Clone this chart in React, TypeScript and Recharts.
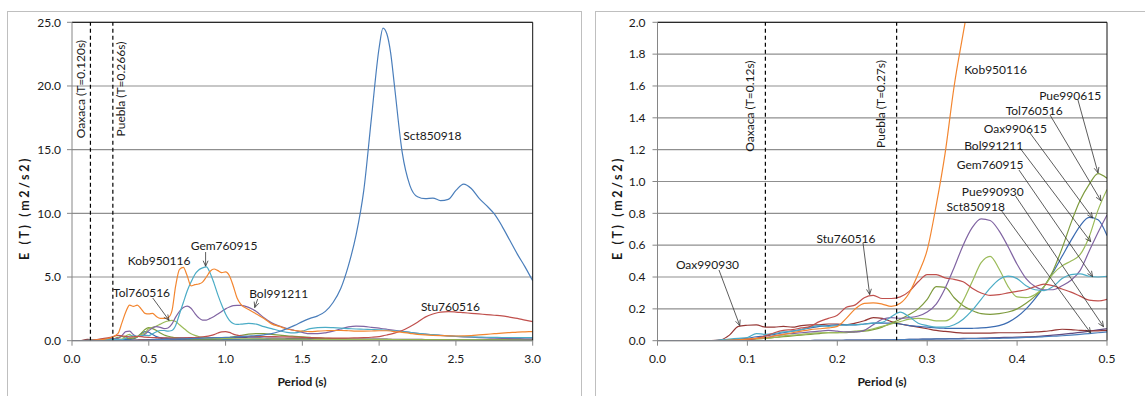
import React from "react";
import {
  LineChart,
  Line,
  XAxis,
  YAxis,
  CartesianGrid,
  ReferenceLine,
  ReferenceDot,
} from "recharts";

const FONT = "Lato, 'Open Sans', Arial, sans-serif";
const TEXT = "#1a1a1a";
const AXIS = "#868686";
const GRID = "#8f8f8f";

// periods (s) used by each panel
const leftPeriods = [
  0, 0.05, 0.1, 0.15, 0.2, 0.25, 0.3, 0.325, 0.35, 0.375,
  0.4, 0.425, 0.45, 0.475, 0.5, 0.525, 0.55, 0.575, 0.6, 0.625,
  0.65, 0.675, 0.7, 0.725, 0.75, 0.775, 0.8, 0.825, 0.85, 0.875,
  0.9, 0.925, 0.95, 0.975, 1.0, 1.025, 1.05, 1.075, 1.1, 1.15,
  1.2, 1.25, 1.3, 1.35, 1.4, 1.45, 1.5, 1.55, 1.6, 1.65,
  1.7, 1.75, 1.8, 1.85, 1.9, 1.95, 2.0, 2.025, 2.05, 2.075,
  2.1, 2.15, 2.2, 2.25, 2.3, 2.35, 2.4, 2.45, 2.5, 2.55,
  2.6, 2.65, 2.7, 2.75, 2.8, 2.85, 2.9, 2.95, 3.0,
];
const rightPeriods = [
  0, 0.01, 0.02, 0.03, 0.04, 0.05, 0.06, 0.07, 0.08, 0.09,
  0.1, 0.11, 0.12, 0.13, 0.14, 0.15, 0.16, 0.17, 0.18, 0.19,
  0.2, 0.21, 0.22, 0.23, 0.24, 0.25, 0.26, 0.27, 0.28, 0.29,
  0.3, 0.31, 0.32, 0.33, 0.34, 0.35, 0.36, 0.37, 0.38, 0.39,
  0.4, 0.41, 0.42, 0.43, 0.44, 0.45, 0.46, 0.47, 0.48, 0.49, 0.5,
];

// E(T) m2/s2, left panel (0 - 3.0 s)
const sctLeft = [
  0, 0, 0, 0, 0.002, 0.005, 0.01, 0.012, 0.013, 0.015,
  0.018, 0.022, 0.03, 0.04, 0.055, 0.07, 0.08, 0.09, 0.1, 0.11,
  0.12, 0.13, 0.14, 0.15, 0.16, 0.17, 0.18, 0.19, 0.2, 0.21,
  0.22, 0.23, 0.24, 0.25, 0.26, 0.27, 0.28, 0.3, 0.32, 0.36,
  0.4, 0.46, 0.55, 0.72, 0.95, 1.2, 1.5, 1.75, 1.95, 2.3,
  3.0, 4.1, 5.9, 8.3, 11.8, 17.5, 23.0, 24.55, 24.1, 22.6,
  20.0, 14.8, 12.2, 11.3, 11.15, 11.2, 11.0, 11.1, 11.8, 12.3,
  11.95, 11.2, 10.6, 9.95, 9.0, 7.9, 6.8, 5.8, 4.7,
];
const kobLeft = [
  0, 0, 0.01, 0.05, 0.09, 0.23, 0.57, 1.4, 2.25, 2.8,
  2.7, 2.8, 2.5, 2.15, 2.1, 2.15, 1.9, 1.76, 1.75, 1.8,
  2.3, 4.3, 5.6, 5.75, 5.1, 4.3, 4.4, 4.45, 4.6, 5.0,
  5.45, 5.63, 5.5, 5.35, 5.4, 5.1, 4.3, 3.35, 2.85, 2.45,
  2.1, 1.75, 1.32, 1.12, 0.92, 0.8, 0.75, 0.72, 0.75, 0.78,
  0.8, 0.8, 0.78, 0.75, 0.75, 0.76, 0.78, 0.78, 0.78, 0.76,
  0.72, 0.66, 0.58, 0.5, 0.45, 0.42, 0.4, 0.38, 0.37, 0.38,
  0.4, 0.45, 0.5, 0.55, 0.6, 0.64, 0.68, 0.7, 0.72,
];
const gemLeft = [
  0, 0, 0.02, 0.06, 0.095, 0.115, 0.095, 0.09, 0.19, 0.36,
  0.39, 0.33, 0.39, 0.42, 0.405, 0.55, 0.7, 0.8, 0.8, 0.75,
  0.8, 1.2, 2.1, 3.0, 3.9, 4.6, 5.2, 5.55, 5.72, 5.8,
  5.3, 4.5, 3.6, 2.8, 2.1, 1.6, 1.35, 1.28, 1.3, 1.36,
  1.3, 1.1, 0.95, 0.78, 0.66, 0.62, 0.75, 0.95, 1.03, 1.05,
  1.02, 0.98, 0.95, 0.92, 0.9, 0.88, 0.86, 0.84, 0.82, 0.8,
  0.78, 0.72, 0.65, 0.58, 0.52, 0.47, 0.42, 0.38, 0.35, 0.32,
  0.3, 0.28, 0.27, 0.26, 0.25, 0.25, 0.24, 0.24, 0.24,
];
const bolLeft = [
  0, 0, 0.01, 0.045, 0.06, 0.135, 0.18, 0.4, 0.71, 0.75,
  0.48, 0.33, 0.345, 0.5, 0.79, 1.0, 1.1, 1.05, 0.95, 1.0,
  1.3, 1.85, 2.3, 2.6, 2.72, 2.55, 2.15, 1.8, 1.62, 1.62,
  1.75, 1.9, 2.1, 2.3, 2.5, 2.65, 2.75, 2.78, 2.78, 2.62,
  2.3, 1.8, 1.4, 1.15, 0.95, 0.8, 0.65, 0.55, 0.55, 0.62,
  0.75, 0.92, 1.08, 1.15, 1.12, 1.05, 0.98, 0.94, 0.9, 0.86,
  0.82, 0.74, 0.66, 0.58, 0.52, 0.46, 0.42, 0.38, 0.34, 0.3,
  0.27, 0.24, 0.22, 0.2, 0.18, 0.17, 0.16, 0.15, 0.15,
];
const tolLeft = [
  0, 0, 0.008, 0.035, 0.05, 0.09, 0.135, 0.125, 0.37, 0.5,
  0.275, 0.31, 0.47, 0.6, 0.95, 1.05, 1.15, 1.3, 1.45, 1.55,
  1.6, 1.5, 1.25, 1.0, 0.75, 0.55, 0.42, 0.33, 0.27, 0.23,
  0.2, 0.18, 0.17, 0.165, 0.16, 0.16, 0.155, 0.155, 0.15, 0.15,
  0.14, 0.14, 0.13, 0.13, 0.125, 0.12, 0.12, 0.115, 0.11, 0.11,
  0.1, 0.1, 0.1, 0.095, 0.09, 0.09, 0.085, 0.085, 0.08, 0.08,
  0.08, 0.075, 0.075, 0.07, 0.07, 0.07, 0.065, 0.065, 0.06, 0.06,
  0.06, 0.06, 0.055, 0.055, 0.055, 0.05, 0.05, 0.05, 0.05,
];
const stuLeft = [
  0, 0, 0.005, 0.07, 0.16, 0.265, 0.415, 0.39, 0.33, 0.285,
  0.31, 0.345, 0.325, 0.28, 0.26, 0.25, 0.24, 0.23, 0.22, 0.21,
  0.2, 0.2, 0.2, 0.21, 0.22, 0.23, 0.25, 0.27, 0.3, 0.34,
  0.4, 0.48, 0.6, 0.7, 0.72, 0.65, 0.52, 0.44, 0.38, 0.33,
  0.33, 0.33, 0.32, 0.31, 0.3, 0.28, 0.26, 0.24, 0.22, 0.21,
  0.2, 0.2, 0.21, 0.22, 0.24, 0.27, 0.32, 0.38, 0.45, 0.52,
  0.6, 0.8, 1.1, 1.45, 1.85, 2.1, 2.25, 2.28, 2.25, 2.2,
  2.15, 2.1, 2.05, 2.0, 1.95, 1.85, 1.75, 1.62, 1.5,
];
const pue615Left = [
  0, 0, 0.008, 0.03, 0.05, 0.085, 0.26, 0.34, 0.19, 0.165,
  0.2, 0.3, 0.58, 0.88, 1.02, 0.95, 0.8, 0.6, 0.45, 0.35,
  0.28, 0.22, 0.18, 0.16, 0.14, 0.13, 0.12, 0.12, 0.12, 0.12,
  0.12, 0.13, 0.14, 0.16, 0.2, 0.25, 0.3, 0.36, 0.42, 0.52,
  0.56, 0.55, 0.5, 0.44, 0.38, 0.34, 0.3, 0.26, 0.22, 0.19,
  0.16, 0.14, 0.12, 0.11, 0.11, 0.1, 0.1, 0.1, 0.1, 0.1,
  0.09, 0.09, 0.09, 0.085, 0.085, 0.08, 0.08, 0.075, 0.07, 0.07,
  0.07, 0.065, 0.065, 0.065, 0.06, 0.06, 0.06, 0.06, 0.06,
];
const oax615Left = [
  0, 0, 0.015, 0.06, 0.1, 0.11, 0.085, 0.078, 0.078, 0.09,
  0.15, 0.3, 0.53, 0.72, 0.66, 0.48, 0.32, 0.24, 0.19, 0.17,
  0.15, 0.14, 0.13, 0.12, 0.12, 0.11, 0.11, 0.1, 0.1, 0.1,
  0.1, 0.1, 0.09, 0.09, 0.09, 0.09, 0.085, 0.085, 0.085, 0.08,
  0.08, 0.08, 0.075, 0.075, 0.07, 0.07, 0.07, 0.065, 0.065, 0.065,
  0.06, 0.06, 0.06, 0.06, 0.055, 0.055, 0.055, 0.055, 0.05, 0.05,
  0.05, 0.05, 0.05, 0.045, 0.045, 0.045, 0.045, 0.04, 0.04, 0.04,
  0.04, 0.04, 0.035, 0.035, 0.035, 0.035, 0.03, 0.03, 0.03,
];
const oax930Left = [
  0, 0, 0.097, 0.085, 0.105, 0.14, 0.075, 0.055, 0.048, 0.048,
  0.05, 0.055, 0.072, 0.065, 0.065, 0.068, 0.07, 0.075, 0.08, 0.085,
  0.09, 0.09, 0.095, 0.095, 0.1, 0.1, 0.1, 0.1, 0.1, 0.1,
  0.1, 0.1, 0.1, 0.1, 0.1, 0.1, 0.1, 0.095, 0.095, 0.095,
  0.09, 0.09, 0.09, 0.085, 0.085, 0.08, 0.08, 0.08, 0.075, 0.075,
  0.075, 0.07, 0.07, 0.07, 0.065, 0.065, 0.065, 0.065, 0.06, 0.06,
  0.06, 0.06, 0.055, 0.055, 0.055, 0.05, 0.05, 0.05, 0.05, 0.045,
  0.045, 0.045, 0.045, 0.04, 0.04, 0.04, 0.04, 0.04, 0.04,
];
const pue930Left = [
  0, 0, 0, 0, 0.002, 0.005, 0.01, 0.012, 0.014, 0.016,
  0.02, 0.025, 0.035, 0.05, 0.075, 0.1, 0.12, 0.15, 0.18, 0.2,
  0.21, 0.22, 0.22, 0.23, 0.23, 0.24, 0.24, 0.25, 0.25, 0.25,
  0.25, 0.25, 0.25, 0.25, 0.25, 0.25, 0.245, 0.24, 0.24, 0.23,
  0.22, 0.21, 0.2, 0.2, 0.19, 0.18, 0.18, 0.17, 0.16, 0.16,
  0.15, 0.14, 0.14, 0.13, 0.13, 0.12, 0.12, 0.12, 0.12, 0.11,
  0.11, 0.11, 0.1, 0.1, 0.095, 0.09, 0.09, 0.085, 0.08, 0.08,
  0.075, 0.075, 0.07, 0.07, 0.065, 0.065, 0.06, 0.06, 0.06,
];

// E(T) m2/s2, right panel (0 - 0.5 s)
const oax930Right = [
  0, 0, 0, 0, 0, 0, 0, 0.005, 0.035, 0.09,
  0.097, 0.1, 0.085, 0.085, 0.09, 0.085, 0.095, 0.1, 0.1, 0.105,
  0.105, 0.1, 0.11, 0.125, 0.145, 0.14, 0.12, 0.105, 0.095, 0.085,
  0.075, 0.065, 0.058, 0.052, 0.048, 0.048, 0.048, 0.048, 0.05, 0.05,
  0.05, 0.052, 0.055, 0.058, 0.065, 0.072, 0.07, 0.065, 0.062, 0.062, 0.065,
];
const stuRight = [
  0, 0, 0, 0, 0, 0, 0, 0, 0, 0.002,
  0.005, 0.015, 0.03, 0.05, 0.065, 0.07, 0.08, 0.09, 0.12, 0.14,
  0.16, 0.21, 0.225, 0.27, 0.285, 0.265, 0.265, 0.275, 0.31, 0.37,
  0.415, 0.415, 0.395, 0.385, 0.37, 0.33, 0.3, 0.285, 0.29, 0.3,
  0.31, 0.32, 0.34, 0.355, 0.345, 0.325, 0.305, 0.28, 0.255, 0.25, 0.26,
];
const kobRight = [
  0, 0, 0, 0, 0, 0, 0, 0, 0.003, 0.005,
  0.01, 0.015, 0.02, 0.03, 0.04, 0.05, 0.06, 0.07, 0.075, 0.08,
  0.09, 0.14, 0.2, 0.235, 0.238, 0.23, 0.215, 0.235, 0.3, 0.42,
  0.57, 0.85, 1.18, 1.6, 1.93, 2.25, 2.55, 2.75, 2.85, 2.8,
  2.7, 2.72, 2.8, 2.75, 2.55, 2.45, 2.3, 2.2, 2.12, 2.1, 2.1,
];
const gemRight = [
  0, 0, 0, 0, 0, 0, 0, 0.005, 0.01, 0.015,
  0.02, 0.045, 0.04, 0.045, 0.055, 0.06, 0.07, 0.085, 0.095, 0.09,
  0.095, 0.1, 0.1, 0.105, 0.11, 0.115, 0.15, 0.18, 0.15, 0.11,
  0.095, 0.085, 0.085, 0.1, 0.135, 0.19, 0.26, 0.33, 0.385, 0.405,
  0.39, 0.345, 0.32, 0.315, 0.34, 0.39, 0.415, 0.42, 0.405, 0.4, 0.405,
];
const bolRight = [
  0, 0, 0, 0, 0, 0, 0, 0, 0.003, 0.006,
  0.01, 0.015, 0.02, 0.03, 0.04, 0.045, 0.05, 0.055, 0.06, 0.065,
  0.06, 0.055, 0.055, 0.065, 0.1, 0.135, 0.145, 0.14, 0.145, 0.155,
  0.18, 0.23, 0.33, 0.46, 0.6, 0.71, 0.765, 0.755, 0.69, 0.59,
  0.48, 0.39, 0.34, 0.32, 0.32, 0.345, 0.38, 0.44, 0.56, 0.68, 0.79,
];
const tolRight = [
  0, 0, 0, 0, 0, 0, 0, 0, 0.003, 0.005,
  0.008, 0.012, 0.015, 0.02, 0.03, 0.035, 0.04, 0.045, 0.05, 0.05,
  0.05, 0.055, 0.06, 0.065, 0.075, 0.09, 0.105, 0.12, 0.135, 0.14,
  0.135, 0.125, 0.125, 0.16, 0.25, 0.37, 0.49, 0.53, 0.45, 0.34,
  0.275, 0.27, 0.29, 0.34, 0.42, 0.47, 0.5, 0.54, 0.65, 0.82, 0.95,
];
const pue615Right = [
  0, 0, 0, 0, 0, 0, 0, 0, 0.003, 0.005,
  0.008, 0.012, 0.015, 0.02, 0.025, 0.03, 0.035, 0.04, 0.045, 0.05,
  0.05, 0.05, 0.055, 0.06, 0.07, 0.085, 0.11, 0.135, 0.165, 0.2,
  0.26, 0.34, 0.335, 0.27, 0.22, 0.19, 0.17, 0.165, 0.17, 0.18,
  0.2, 0.235, 0.28, 0.34, 0.44, 0.58, 0.74, 0.88, 0.98, 1.05, 1.02,
];
const oax615Right = [
  0, 0, 0, 0, 0, 0, 0, 0, 0.005, 0.01,
  0.015, 0.025, 0.03, 0.04, 0.05, 0.06, 0.07, 0.08, 0.09, 0.095,
  0.1, 0.1, 0.1, 0.105, 0.11, 0.11, 0.11, 0.105, 0.095, 0.09,
  0.085, 0.08, 0.078, 0.077, 0.077, 0.078, 0.08, 0.085, 0.095, 0.115,
  0.15, 0.2, 0.265, 0.34, 0.43, 0.53, 0.63, 0.72, 0.775, 0.76, 0.66,
];
const sctRight = [
  0, 0, 0, 0, 0, 0, 0, 0, 0, 0,
  0, 0, 0, 0, 0, 0, 0.001, 0.001, 0.002, 0.002,
  0.002, 0.003, 0.003, 0.004, 0.004, 0.005, 0.006, 0.007, 0.008, 0.009,
  0.01, 0.011, 0.011, 0.012, 0.012, 0.013, 0.013, 0.014, 0.015, 0.016,
  0.018, 0.02, 0.022, 0.025, 0.028, 0.031, 0.035, 0.04, 0.045, 0.05, 0.055,
];
const pue930Right = [
  0, 0, 0, 0, 0, 0, 0, 0, 0, 0,
  0, 0, 0, 0, 0, 0, 0.001, 0.001, 0.002, 0.002,
  0.002, 0.003, 0.004, 0.004, 0.005, 0.005, 0.006, 0.007, 0.008, 0.009,
  0.01, 0.011, 0.012, 0.013, 0.014, 0.015, 0.016, 0.018, 0.02, 0.021,
  0.022, 0.024, 0.026, 0.03, 0.035, 0.04, 0.046, 0.052, 0.06, 0.068, 0.075,
];

type Series = {
  key: string;
  color: string;
  left: number[];
  right: number[];
};

const seriesList: Series[] = [
  { key: "Pue990930", color: "#604b80", left: pue930Left, right: pue930Right },
  { key: "Oax990930", color: "#953735", left: oax930Left, right: oax930Right },
  { key: "Oax990615", color: "#3b6bb1", left: oax615Left, right: oax615Right },
  { key: "Pue990615", color: "#7e9b3e", left: pue615Left, right: pue615Right },
  { key: "Tol760516", color: "#9bbb59", left: tolLeft, right: tolRight },
  { key: "Bol991211", color: "#8064a2", left: bolLeft, right: bolRight },
  { key: "Gem760915", color: "#4bacc6", left: gemLeft, right: gemRight },
  { key: "Stu760516", color: "#c0504d", left: stuLeft, right: stuRight },
  { key: "Kob950116", color: "#f38630", left: kobLeft, right: kobRight },
  { key: "Sct850918", color: "#4a7ebb", left: sctLeft, right: sctRight },
];

const leftXTicks = [0, 0.5, 1, 1.5, 2, 2.5, 3];
const leftYTicks = [0, 5, 10, 15, 20, 25];
const rightXTicks = [0, 0.1, 0.2, 0.3, 0.4, 0.5];
const rightYTicks = [0, 0.2, 0.4, 0.6, 0.8, 1, 1.2, 1.4, 1.6, 1.8, 2];

type Mark = { t: number; text: string; lt: number; le: number };
type Note = { text: string; t: number; e: number };
type Arrow = { from: [number, number]; to: [number, number] };

const leftMarks: Mark[] = [
  { t: 0.12, text: "Oaxaca (T=0.120s)", lt: 0.057, le: 19.76 },
  { t: 0.266, text: "Puebla (T=0.266s)", lt: 0.317, le: 19.76 },
];
const rightMarks: Mark[] = [
  { t: 0.12, text: "Oaxaca (T=0.12s)", lt: 0.1026, le: 1.474 },
  { t: 0.266, text: "Puebla (T=0.27s)", lt: 0.2486, le: 1.487 },
];

const leftNotes: Note[] = [
  { text: "Sct850918", t: 2.347, e: 16.1 },
  { text: "Gem760915", t: 0.99, e: 7.51 },
  { text: "Kob950116", t: 0.567, e: 6.26 },
  { text: "Tol760516", t: 0.453, e: 3.75 },
  { text: "Bol991211", t: 1.346, e: 3.67 },
  { text: "Stu760516", t: 2.464, e: 2.65 },
];
const leftArrows: Arrow[] = [
  { from: [0.87, 6.96], to: [0.87, 5.85] },
  { from: [0.526, 3.35], to: [0.632, 1.6] },
  { from: [1.209, 3.27], to: [1.19, 2.6] },
];

const rightNotes: Note[] = [
  { text: "Kob950116", t: 0.376, e: 1.705 },
  { text: "Pue990615", t: 0.459, e: 1.541 },
  { text: "Tol760516", t: 0.419, e: 1.449 },
  { text: "Oax990615", t: 0.398, e: 1.33 },
  { text: "Bol991211", t: 0.374, e: 1.229 },
  { text: "Gem760915", t: 0.37, e: 1.104 },
  { text: "Pue990930", t: 0.373, e: 0.94 },
  { text: "Sct850918", t: 0.354, e: 0.846 },
  { text: "Stu760516", t: 0.2097, e: 0.645 },
  { text: "Oax990930", t: 0.0556, e: 0.48 },
];
const rightArrows: Arrow[] = [
  { from: [0.0684, 0.444], to: [0.0915, 0.095] },
  { from: [0.2286, 0.614], to: [0.236, 0.29] },
  { from: [0.4677, 1.512], to: [0.49, 1.054] },
  { from: [0.4366, 1.418], to: [0.4933, 0.879] },
  { from: [0.4143, 1.305], to: [0.484, 0.771] },
  { from: [0.4032, 1.21], to: [0.4819, 0.622] },
  { from: [0.4021, 1.072], to: [0.484, 0.402] },
  { from: [0.3982, 0.909], to: [0.4961, 0.088] },
  { from: [0.3821, 0.821], to: [0.4819, 0.048] },
];

const ArrowShape = (p: any) => {
  const { x1, y1, x2, y2 } = p;
  if (x1 == null) return <g />;
  const a = Math.atan2(y2 - y1, x2 - x1);
  const len = 6;
  const w = 0.42;
  const ax = x2 - len * Math.cos(a - w);
  const ay = y2 - len * Math.sin(a - w);
  const bx = x2 - len * Math.cos(a + w);
  const by = y2 - len * Math.sin(a + w);
  return (
    <g>
      <line x1={x1} y1={y1} x2={x2} y2={y2} stroke="#333" strokeWidth={0.8} />
      <polyline
        points={`${ax},${ay} ${x2},${y2} ${bx},${by}`}
        fill="none"
        stroke="#333"
        strokeWidth={0.8}
      />
    </g>
  );
};

type PanelProps = {
  width: number;
  height: number;
  margin: { top: number; right: number; bottom: number; left: number };
  periods: number[];
  side: "left" | "right";
  xMax: number;
  xTicks: number[];
  yMax: number;
  yTicks: number[];
  marks: Mark[];
  notes: Note[];
  arrows: Arrow[];
};

function Panel({
  width,
  height,
  margin,
  periods,
  side,
  xMax,
  xTicks,
  yMax,
  yTicks,
  marks,
  notes,
  arrows,
}: PanelProps) {
  const rows = periods.map((t, i) => {
    const row: Record<string, number> = { t };
    seriesList.forEach((s) => {
      row[s.key] = s[side][i];
    });
    return row;
  });
  const tickStyle = { fontSize: 12, fill: TEXT, fontFamily: FONT };

  return (
    <LineChart width={width} height={height} data={rows} margin={margin}>
      <CartesianGrid vertical={false} stroke={GRID} strokeWidth={1.2} />
      <XAxis
        dataKey="t"
        type="number"
        domain={[0, xMax]}
        ticks={xTicks}
        tickFormatter={(v: number) => v.toFixed(1)}
        stroke={AXIS}
        tick={tickStyle}
        tickSize={5}
        tickMargin={9}
        height={30}
        allowDataOverflow
      />
      <YAxis
        type="number"
        domain={[0, yMax]}
        ticks={yTicks}
        tickFormatter={(v: number) => v.toFixed(1)}
        stroke={AXIS}
        tick={tickStyle}
        tickSize={5}
        tickMargin={side === "left" ? 6 : 7}
        width={50}
        allowDataOverflow
      />
      {seriesList.map((s) => (
        <Line
          key={s.key}
          dataKey={s.key}
          type="monotone"
          stroke={s.color}
          strokeWidth={1.2}
          dot={false}
          activeDot={false}
          isAnimationActive={false}
        />
      ))}
      <ReferenceLine y={yMax} stroke="#111" strokeWidth={1} />
      <ReferenceLine x={xMax} stroke="#111" strokeWidth={1} />
      {marks.map((m) => (
        <ReferenceLine
          key={"l" + m.text}
          x={m.t}
          stroke="#000"
          strokeWidth={1.2}
          strokeDasharray="4 3"
        />
      ))}
      {marks.map((m) => (
        <ReferenceDot
          key={"m" + m.text}
          x={m.lt}
          y={m.le}
          r={0}
          shape={(p: any) => (
            <text
              x={p.cx}
              y={p.cy}
              transform={`rotate(-90 ${p.cx} ${p.cy})`}
              textAnchor="middle"
              dominantBaseline="central"
              fontFamily={FONT}
              fontSize={12}
              fill={TEXT}
            >
              {m.text}
            </text>
          )}
        />
      ))}
      {arrows.map((a, i) => (
        <ReferenceLine
          key={"a" + i}
          segment={[
            { x: a.from[0], y: a.from[1] },
            { x: a.to[0], y: a.to[1] },
          ]}
          stroke="#333"
          shape={ArrowShape}
        />
      ))}
      {notes.map((n) => (
        <ReferenceDot
          key={"n" + n.text}
          x={n.t}
          y={n.e}
          r={0}
          shape={(p: any) => (
            <text
              x={p.cx}
              y={p.cy}
              textAnchor="middle"
              dominantBaseline="central"
              fontFamily={FONT}
              fontSize={12}
              fill={TEXT}
            >
              {n.text}
            </text>
          )}
        />
      ))}
    </LineChart>
  );
}

const titleStyle: React.CSSProperties = {
  position: "absolute",
  fontFamily: FONT,
  fontWeight: 700,
  fontSize: 12,
  color: TEXT,
  whiteSpace: "pre",
  lineHeight: "14px",
};

const yTitleStyle: React.CSSProperties = {
  ...titleStyle,
  fontSize: 12.5,
  letterSpacing: "2.6px",
  top: 208,
  transform: "translate(-50%, -50%) rotate(-90deg)",
};

export default function App() {
  return (
    <div
      style={{
        position: "absolute",
        left: 0,
        top: 0,
        width: 1145,
        height: 396,
        overflow: "hidden",
        background: "#fff",
      }}
    >
      <div
        style={{
          position: "absolute",
          left: 7,
          top: 11,
          width: 575,
          height: 400,
          border: "1px solid #bfbfbf",
          boxSizing: "border-box",
        }}
      />
      <div
        style={{
          position: "absolute",
          left: 595,
          top: 11,
          width: 600,
          height: 400,
          border: "1px solid #bfbfbf",
          boxSizing: "border-box",
        }}
      />
      <div style={{ position: "absolute", left: 0, top: 0 }}>
        <Panel
          width={582}
          height={396}
          margin={{ top: 22.3, right: 49.3, bottom: 25.3, left: 22 }}
          periods={leftPeriods}
          side="left"
          xMax={3}
          xTicks={leftXTicks}
          yMax={25}
          yTicks={leftYTicks}
          marks={leftMarks}
          notes={leftNotes}
          arrows={leftArrows}
        />
      </div>
      <div style={{ position: "absolute", left: 590, top: 0 }}>
        <Panel
          width={555}
          height={396}
          margin={{ top: 22.3, right: 38, bottom: 25.3, left: 17.5 }}
          periods={rightPeriods}
          side="right"
          xMax={0.5}
          xTicks={rightXTicks}
          yMax={2}
          yTicks={rightYTicks}
          marks={rightMarks}
          notes={rightNotes}
          arrows={rightArrows}
        />
      </div>
      <div style={{ ...yTitleStyle, left: 25 }}>E (T) (m2/s2)</div>
      <div style={{ ...yTitleStyle, left: 618 }}>E (T) (m2/s2)</div>
      <div
        style={{ ...titleStyle, left: 302, top: 382, transform: "translate(-50%, -50%)" }}
      >
        Period (s)
      </div>
      <div
        style={{ ...titleStyle, left: 882, top: 382, transform: "translate(-50%, -50%)" }}
      >
        Period (s)
      </div>
    </div>
  );
}
